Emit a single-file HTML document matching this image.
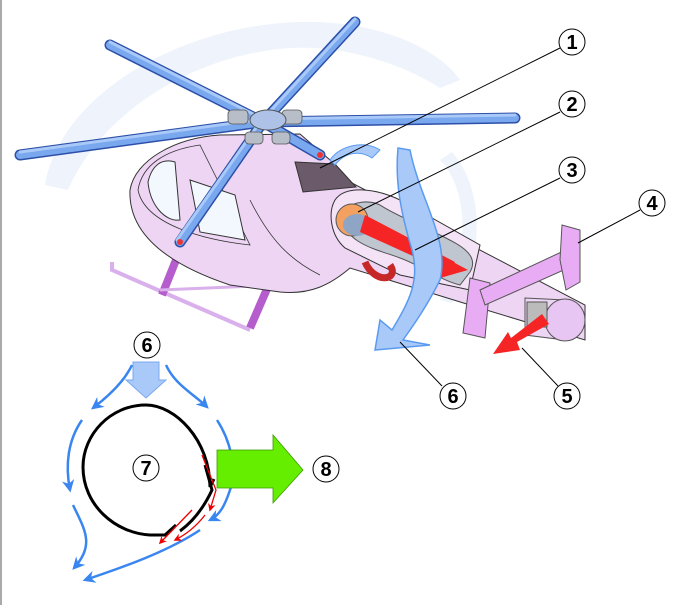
<!DOCTYPE html><html><head><style>html,body{margin:0;padding:0;background:#fff}svg{display:block}</style></head><body>
<svg width="689" height="605" viewBox="0 0 689 605" xmlns="http://www.w3.org/2000/svg" font-family="Liberation Sans, sans-serif">
<defs>
<marker id="ab" viewBox="0 0 10 10" refX="8" refY="5" markerWidth="5" markerHeight="5" orient="auto"><path d="M0,0L10,5L0,10L3,5z" fill="#3a86f0"/></marker>
<marker id="ar" viewBox="0 0 10 10" refX="8" refY="5" markerWidth="6" markerHeight="6" orient="auto"><path d="M0,0L10,5L0,10L3,5z" fill="#e00"/></marker>
</defs>
<rect x="0" y="0" width="2" height="605" fill="#aaa"/>
<path d="M45,185 C60,95 180,25 300,22 C380,20 440,50 460,80 L440,88 C400,62 340,45 290,48 C190,55 100,115 68,190 Z" fill="#eef3fc"/>
<path d="M440,160 C470,190 470,260 440,300 L452,303 C485,260 485,190 452,152 Z" fill="#eef3fc"/>
<path d="M112,262 L112,270 L250,330" stroke="#d9b0ec" stroke-width="4" fill="none"/>
<path d="M182,245 L162,295 M270,282 L250,328" stroke="#b55dcc" stroke-width="8" fill="none"/>
<path d="M160,290 L280,285" stroke="#d9b0ec" stroke-width="3"/>
<path d="M130,190 C135,160 175,138 220,135 L300,134 L330,160 L350,182 L585,305 L585,340 L470,305 L350,268 C330,285 310,295 280,292 L230,285 C170,265 128,235 130,190 Z" fill="#edd5f3" stroke="#333" stroke-width="1"/>
<path d="M138,190 C142,165 165,150 200,145 L250,245 C205,240 145,225 138,190Z" fill="#edd5f3" stroke="#333" stroke-width="0.8"/>
<path d="M148,182 C152,165 162,158 175,162 L180,220 C165,222 150,205 148,182Z" fill="#f3f8fe" stroke="#333" stroke-width="1"/>
<path d="M190,180 L235,195 L245,240 L200,232Z" fill="#f3f8fe" stroke="#333" stroke-width="1"/>
<path d="M250,200 C270,240 290,260 320,275" stroke="#333" fill="none" stroke-width="0.8"/>
<path d="M295,162 L335,164 L356,187 L303,192 Z" fill="#6a5a6a" stroke="#333"/>
<path d="M335,200 C345,185 375,188 400,200 L480,245 L470,290 L400,275 L345,248 C330,235 328,212 335,200Z" fill="#f4e2f7" stroke="#333"/>
<path d="M340,215 C350,200 370,200 380,205 C395,215 420,225 440,235 C460,245 480,255 470,272 L460,285 C440,280 420,265 400,258 C380,250 345,245 340,215Z" fill="#bfc6d0" stroke="#555"/>
<circle cx="352" cy="220" r="16" fill="#f3a060" stroke="#555"/>
<ellipse cx="357" cy="225" rx="14" ry="11" fill="#8fa5c5"/>
<path d="M365,215 L455,262 L448,272 L360,232Z" fill="#f52525"/>
<path d="M440,255 L468,270 L440,278Z" fill="#f52525"/>
<path d="M365,262 C375,285 400,280 390,265" stroke="#c62828" stroke-width="7" fill="none"/>
<path d="M525,298 L565,300 L565,340 L525,335Z" fill="#ecd6f4" stroke="#555"/>
<ellipse cx="565" cy="320" rx="20" ry="21" fill="#e8c6f3" stroke="#555"/>
<rect x="527" y="302" width="20" height="25" fill="#bbb" stroke="#555"/>
<path d="M470,278 L490,283 L485,338 L463,333Z" fill="#e8acf4" stroke="#555"/>
<path d="M480,290 L570,248 L575,265 L485,305Z" fill="#e8acf4" stroke="#555"/>
<path d="M562,225 L580,230 L580,282 L566,290 L560,260Z" fill="#e8acf4" stroke="#555"/>
<!-- red exhaust arrow -->
<path d="M542,314 L549,324 L517,342 L520,350 L493,354 L508,332 L511,338Z" fill="#f52525"/>
<path d="M398,148 L410,150 C420,200 450,240 440,280 C425,310 410,330 403,340 L430,345 L375,350 L380,320 L392,330 C410,300 420,280 412,250 C400,210 395,180 398,148Z" fill="#a9c9f8" stroke="#5a9af0" stroke-width="1.5"/>
<path d="M330,160 C340,145 365,140 380,150 L372,158 C360,150 345,152 335,165Z" fill="#a9c9f8" stroke="#5a9af0"/>
<g stroke-linecap="round">
<g stroke="#2c4fa8" stroke-width="11">
<line x1="263" y1="122" x2="110" y2="45"/><line x1="263" y1="122" x2="355" y2="22"/>
<line x1="263" y1="122" x2="515" y2="118"/><line x1="263" y1="122" x2="20" y2="155"/>
<line x1="263" y1="122" x2="180" y2="242"/><line x1="263" y1="122" x2="320" y2="155"/>
</g>
<g stroke="#7aa8ef" stroke-width="8">
<line x1="263" y1="122" x2="110" y2="45"/><line x1="263" y1="122" x2="355" y2="22"/>
<line x1="263" y1="122" x2="515" y2="118"/><line x1="263" y1="122" x2="20" y2="155"/>
<line x1="263" y1="122" x2="180" y2="242"/><line x1="263" y1="122" x2="320" y2="155"/>
</g>
<g stroke="#a9c9f8" stroke-width="3">
<line x1="263" y1="119" x2="110" y2="42"/><line x1="263" y1="119" x2="355" y2="19"/>
<line x1="263" y1="119" x2="515" y2="115"/><line x1="263" y1="119" x2="20" y2="152"/>
<line x1="260" y1="122" x2="177" y2="240"/>
</g>
</g>
<circle cx="180" cy="242" r="3" fill="#e33"/><circle cx="320" cy="155" r="3" fill="#e33"/>
<g fill="#b8bec8" stroke="#555" stroke-width="0.8">
<rect x="228" y="110" width="20" height="14" rx="4"/><rect x="282" y="110" width="20" height="14" rx="4"/>
<rect x="245" y="132" width="18" height="12" rx="4"/><rect x="272" y="132" width="18" height="12" rx="4"/>
</g>
<ellipse cx="268" cy="120" rx="18" ry="10" fill="#aec2e8" stroke="#555"/>
<g stroke="#000" stroke-width="1">
<line x1="560" y1="48" x2="320" y2="168"/>
<line x1="560" y1="112" x2="358" y2="212"/>
<line x1="560" y1="178" x2="415" y2="250"/>
<line x1="640" y1="210" x2="578" y2="243"/>
<line x1="558" y1="386" x2="522" y2="348"/>
<line x1="442" y1="386" x2="400" y2="342"/>
</g>
<path d="M133,362 L159,362 L159,380 L166,380 L146,398 L126,380 L133,380Z" fill="#a9c9f8" stroke="#7aa8f0"/>
<g stroke="#3a86f0" stroke-width="2.5" fill="none" marker-end="url(#ab)">
<path d="M132,365 C125,380 110,395 93,408"/>
<path d="M166,365 C175,385 195,395 207,407"/>
<path d="M82,420 C68,440 65,465 70,490"/>
<path d="M73,505 C85,530 95,545 74,568"/>
<path d="M217,420 C230,440 238,470 230,490 C225,505 220,515 210,520"/>
<path d="M200,530 C170,550 130,565 85,580"/>
</g>
<path d="M214,479 L210,487 C210,440 175,405 146,405 C110,405 83,435 83,467 C83,505 115,533 150,535 L165,535 L176,525" fill="none" stroke="#000" stroke-width="3"/>
<path d="M205,465 L212,490 C205,505 195,520 180,531" fill="none" stroke="#000" stroke-width="3"/>
<g stroke="#e00" stroke-width="1.3" fill="none" marker-end="url(#ar)">
<path d="M202,455 L216,490 L210,510"/>
<path d="M192,510 L160,543"/>
<path d="M205,515 C195,528 185,535 175,540"/>
</g>
<path d="M217,450 L273,450 L273,435 L303,470 L273,503 L273,488 L217,488Z" fill="#66ee00" stroke="#3a9a00" stroke-width="0.8"/>
<g font-weight="bold" font-size="20" text-anchor="middle">
<g fill="#fff" stroke="#000" stroke-width="1">
<circle cx="572" cy="42" r="13"/><circle cx="572" cy="104" r="13"/><circle cx="572" cy="170" r="13"/>
<circle cx="652" cy="203" r="13"/><circle cx="567" cy="396" r="13"/><circle cx="453" cy="396" r="13"/>
<circle cx="147" cy="345" r="13"/><circle cx="146" cy="468" r="13"/><circle cx="326" cy="469" r="13"/>
</g>
<text x="572" y="49">1</text><text x="572" y="111">2</text><text x="572" y="177">3</text>
<text x="652" y="210">4</text><text x="567" y="403">5</text><text x="453" y="403">6</text>
<text x="147" y="352">6</text><text x="146" y="475">7</text><text x="326" y="476">8</text>
</g>
</svg>
</body></html>
